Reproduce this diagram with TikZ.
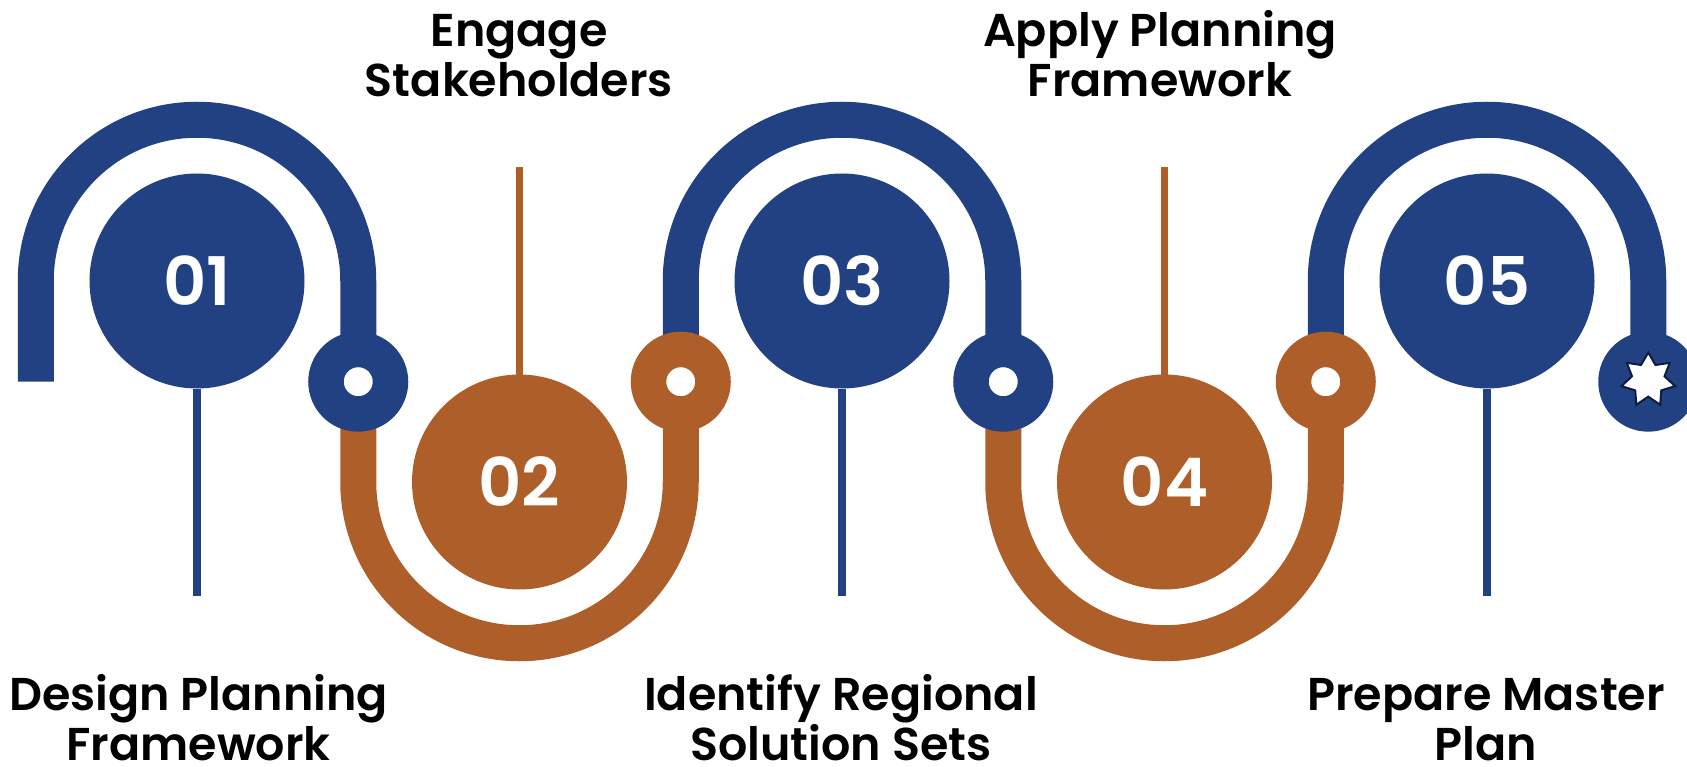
\documentclass[tikz,border=0pt]{standalone}
\usepackage{fontspec}
\setmainfont{Poppins}[BoldFont={Poppins SemiBold}]
\usetikzlibrary{shapes.geometric}
\definecolor{navy}{HTML}{224183}
\definecolor{rust}{HTML}{AE5E28}
\definecolor{starline}{HTML}{0D1B3E}
\begin{document}
\begin{tikzpicture}[x=1pt,y=-1pt,
  band/.style={line width=36pt},
  bigdot/.style={circle, minimum size=215pt, inner sep=0pt, outer sep=0pt, text=white, font=\fontsize{67}{67}\selectfont\bfseries},
  ring/.style={circle, minimum size=64.5pt, inner sep=0pt, outer sep=0pt, line width=35.5pt, fill=white},
  stem/.style={line width=7.5pt},
  label/.style={inner sep=0pt, anchor=base, text=black, font=\fontsize{46}{50}\selectfont\bfseries},
  blabel/.style={inner sep=0pt, anchor=south, align=center, text=black, font=\fontsize{46}{50}\selectfont\bfseries}
]
\useasboundingbox (0,0) rectangle (1687,767);
\clip (0,0) rectangle (1687,767);
% ring positions
\coordinate (p0) at (35.75,381.7);
\coordinate (p1) at (358.25,381.7);
\coordinate (p2) at (680.75,381.7);
\coordinate (p3) at (1003.25,381.7);
\coordinate (p4) at (1325.75,381.7);
\coordinate (p5) at (1648.25,381.7);
% stem ends
\coordinate (s1) at (197,595.5);
\coordinate (s2) at (519.5,167);
\coordinate (s3) at (842,595.5);
\coordinate (s4) at (1164.5,167);
\coordinate (s5) at (1487,595.5);
% bands
\draw[band,navy] (p0) -- ++(0,-100.7) arc[start angle=180,end angle=360,radius=161.25] -- (p1);
\draw[band,rust] (p1) -- ++(0,100.3) arc[start angle=180,end angle=0,radius=161.25] -- (p2);
\draw[band,navy] (p2) -- ++(0,-100.7) arc[start angle=180,end angle=360,radius=161.25] -- (p3);
\draw[band,rust] (p3) -- ++(0,100.3) arc[start angle=180,end angle=0,radius=161.25] -- (p4);
\draw[band,navy] (p4) -- ++(0,-100.7) arc[start angle=180,end angle=360,radius=161.25] -- (p5);
% rings
\node[ring,draw=navy] (r1) at (p1) {};
\node[ring,draw=rust] (r2) at (p2) {};
\node[ring,draw=navy] (r3) at (p3) {};
\node[ring,draw=rust] (r4) at (p4) {};
\node[circle,fill=navy,minimum size=100pt,inner sep=0pt] (r5) at (p5) {};
\node[star,star points=7,star point ratio=1.65,minimum size=55pt,inner sep=0pt,fill=white,draw=starline,line width=2pt] (st) at (1648.25,380) {};
% big circles
\node[bigdot,fill=navy] (c1) at (197,281) {01};
\node[bigdot,fill=rust] (c2) at (519.5,482) {02};
\node[bigdot,fill=navy] (c3) at (842,281) {03};
\node[bigdot,fill=rust] (c4) at (1164.5,482) {04};
\node[bigdot,fill=navy] (c5) at (1487,281) {05};
% stems
\draw[stem,navy] (c1.south) -- (s1);
\draw[stem,rust] (c2.north) -- (s2);
\draw[stem,navy] (c3.south) -- (s3);
\draw[stem,rust] (c4.north) -- (s4);
\draw[stem,navy] (c5.south) -- (s5);
% labels
\node[blabel] (t1) at (198.5,761) {Design Planning\\Framework};
\node[label] (t2) at (519,47) {\begin{tabular}[t]{@{}c@{}}Engage\\Stakeholders\end{tabular}};
\node[blabel] (t3) at (841,761) {Identify Regional\\Solution Sets};
\node[label] (t4) at (1160,47) {\begin{tabular}[t]{@{}c@{}}Apply Planning\\Framework\end{tabular}};
\node[blabel] (t5) at (1486,761) {Prepare Master\\Plan};
\end{tikzpicture}
\end{document}
